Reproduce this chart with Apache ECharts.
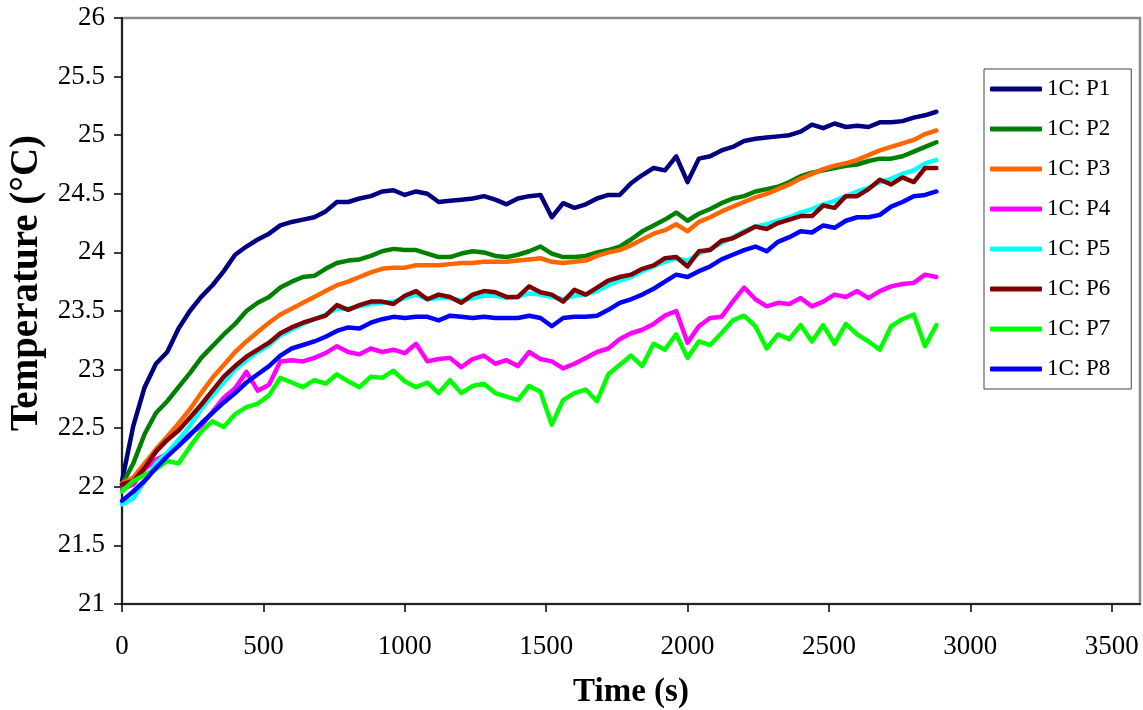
<!DOCTYPE html>
<html>
<head>
<meta charset="utf-8">
<script src="https://cdn.jsdelivr.net/npm/echarts@6/dist/echarts.min.js"></script>
<style>
html,body{margin:0;padding:0;background:#fff;}
#chart{width:1143px;height:710px;}
</style>
</head>
<body>
<div id="chart"></div>
<script>
const timeS = [0,40,80,120,160,200,240,280,320,360,400,440,480,520,560,600,640,680,720,760,800,840,880,920,960,1000,1040,1080,1120,1160,1200,1240,1280,1320,1360,1400,1440,1480,1520,1560,1600,1640,1680,1720,1760,1800,1840,1880,1920,1960,2000,2040,2080,2120,2160,2200,2240,2280,2320,2360,2400,2440,2480,2520,2560,2600,2640,2680,2720,2760,2800,2840,2880];

const seriesNames = ["1C: P1","1C: P2","1C: P3","1C: P4","1C: P5","1C: P6","1C: P7","1C: P8"];

const p1 = [22.05,22.52,22.85,23.05,23.15,23.35,23.50,23.62,23.72,23.84,23.98,24.05,24.11,24.16,24.23,24.26,24.28,24.30,24.35,24.43,24.43,24.46,24.48,24.52,24.53,24.49,24.52,24.50,24.43,24.44,24.45,24.46,24.48,24.45,24.41,24.46,24.48,24.49,24.30,24.42,24.38,24.41,24.46,24.49,24.49,24.59,24.66,24.72,24.70,24.82,24.60,24.80,24.82,24.87,24.90,24.95,24.97,24.98,24.99,25.00,25.03,25.09,25.06,25.10,25.07,25.08,25.07,25.11,25.11,25.12,25.15,25.17,25.20];
const p2 = [22.02,22.20,22.45,22.63,22.73,22.85,22.97,23.10,23.20,23.30,23.39,23.50,23.57,23.62,23.70,23.75,23.79,23.80,23.86,23.91,23.93,23.94,23.97,24.01,24.03,24.02,24.02,23.99,23.96,23.96,23.99,24.01,24.00,23.97,23.96,23.98,24.01,24.05,23.99,23.96,23.96,23.97,24.00,24.02,24.05,24.11,24.18,24.23,24.28,24.34,24.27,24.33,24.37,24.42,24.46,24.48,24.52,24.54,24.56,24.60,24.65,24.68,24.70,24.72,24.74,24.75,24.78,24.80,24.80,24.82,24.86,24.90,24.94];
const p3 = [22.03,22.08,22.20,22.32,22.43,22.54,22.66,22.80,22.93,23.04,23.15,23.24,23.32,23.40,23.47,23.52,23.57,23.62,23.67,23.72,23.75,23.79,23.83,23.86,23.87,23.87,23.89,23.89,23.89,23.90,23.91,23.91,23.92,23.92,23.92,23.93,23.94,23.95,23.92,23.91,23.92,23.93,23.97,24.00,24.02,24.06,24.11,24.16,24.19,24.24,24.18,24.26,24.30,24.35,24.39,24.43,24.47,24.50,24.54,24.58,24.63,24.67,24.71,24.74,24.76,24.79,24.83,24.87,24.90,24.93,24.96,25.01,25.04];
const p4 = [21.98,22.02,22.15,22.23,22.28,22.35,22.45,22.52,22.64,22.76,22.84,22.98,22.82,22.87,23.07,23.08,23.07,23.10,23.14,23.20,23.15,23.13,23.18,23.15,23.17,23.14,23.22,23.07,23.09,23.10,23.02,23.09,23.12,23.05,23.08,23.03,23.15,23.09,23.07,23.01,23.05,23.10,23.15,23.18,23.26,23.31,23.34,23.39,23.46,23.50,23.23,23.37,23.44,23.45,23.58,23.70,23.60,23.54,23.57,23.56,23.61,23.54,23.58,23.64,23.62,23.67,23.61,23.67,23.71,23.73,23.74,23.81,23.79];
const p5 = [21.85,21.90,22.05,22.20,22.29,22.40,22.52,22.66,22.78,22.89,23.00,23.08,23.15,23.21,23.29,23.34,23.39,23.43,23.47,23.52,23.52,23.54,23.56,23.57,23.58,23.61,23.64,23.60,23.61,23.61,23.59,23.61,23.63,23.63,23.61,23.62,23.65,23.64,23.62,23.60,23.63,23.64,23.67,23.72,23.76,23.79,23.84,23.88,23.92,23.95,23.93,23.99,24.03,24.08,24.13,24.18,24.22,24.24,24.27,24.30,24.34,24.37,24.41,24.44,24.48,24.52,24.55,24.60,24.63,24.67,24.70,24.76,24.79];
const p6 = [22.02,22.05,22.16,22.30,22.40,22.48,22.59,22.70,22.82,22.94,23.03,23.11,23.17,23.23,23.31,23.36,23.40,23.43,23.46,23.55,23.51,23.55,23.58,23.58,23.56,23.63,23.67,23.60,23.64,23.62,23.57,23.64,23.67,23.66,23.62,23.62,23.71,23.66,23.64,23.58,23.68,23.64,23.70,23.76,23.79,23.81,23.86,23.89,23.95,23.96,23.88,24.01,24.02,24.10,24.12,24.17,24.22,24.20,24.25,24.28,24.31,24.31,24.40,24.38,24.48,24.48,24.54,24.62,24.58,24.64,24.60,24.72,24.72];
const p7 = [21.96,22.05,22.10,22.15,22.22,22.20,22.34,22.47,22.56,22.51,22.62,22.68,22.71,22.78,22.93,22.89,22.85,22.91,22.88,22.96,22.90,22.85,22.94,22.93,22.99,22.90,22.85,22.89,22.80,22.91,22.80,22.86,22.88,22.80,22.77,22.74,22.86,22.81,22.53,22.74,22.80,22.83,22.73,22.96,23.04,23.12,23.03,23.22,23.17,23.30,23.10,23.24,23.21,23.31,23.42,23.46,23.37,23.18,23.30,23.26,23.38,23.24,23.38,23.22,23.39,23.30,23.24,23.17,23.37,23.43,23.47,23.20,23.38];
const p8 = [21.88,21.96,22.05,22.16,22.26,22.35,22.44,22.54,22.63,22.72,22.80,22.89,22.96,23.03,23.12,23.18,23.21,23.24,23.28,23.33,23.36,23.35,23.40,23.43,23.45,23.44,23.45,23.45,23.42,23.46,23.45,23.44,23.45,23.44,23.44,23.44,23.46,23.44,23.37,23.44,23.45,23.45,23.46,23.51,23.57,23.60,23.64,23.69,23.75,23.81,23.79,23.84,23.88,23.94,23.98,24.02,24.05,24.01,24.09,24.13,24.18,24.17,24.23,24.21,24.27,24.30,24.30,24.32,24.39,24.43,24.48,24.49,24.52];

const xTickValues = [0,500,1000,1500,2000,2500,3000,3500];
const seriesColors = ["#000080","#008000","#FF6600","#FF00FF","#00FFFF","#800000","#00FF00","#0000FF"];

const allValues = [p1,p2,p3,p4,p5,p6,p7,p8];
const FONT = "'Liberation Serif','Times New Roman',serif";

const chart = echarts.init(document.getElementById('chart'), null, {renderer:'canvas'});
chart.setOption({
  animation: false,
  backgroundColor: '#ffffff',
  grid: {left:122, right:3, top:18, bottom:106, containLabel:false, outerBoundsMode:'none',
    show:true, borderColor:'#8c8c8c', borderWidth:2.5, backgroundColor:'transparent'},
  legend: {
    orient:'vertical', left:984, top:69,
    data: seriesNames,
    icon:'roundRect', itemWidth:52, itemHeight:5, itemGap:16,
    padding:[8,21,8,6],
    borderColor:'#444', borderWidth:1, backgroundColor:'#fff',
    textStyle:{fontFamily:FONT, fontSize:23, color:'#000', lineHeight:24}
  },
  xAxis: {
    type:'value', min:0, max:3600, interval:500,
    name:'Time (s)', nameLocation:'middle', nameGap:72,
    nameTextStyle:{fontFamily:FONT, fontSize:33, fontWeight:'bold', color:'#000'},
    axisLine:{show:true, onZero:false, lineStyle:{color:'#222', width:2}},
    axisTick:{show:true, inside:false, length:8, lineStyle:{color:'#000', width:1.5}, customValues:xTickValues},
    axisLabel:{fontFamily:FONT, fontSize:27, color:'#000', margin:29, customValues:xTickValues,
      formatter:(v)=>String(v)},
    splitLine:{show:false}
  },
  yAxis: {
    type:'value', min:21, max:26, interval:0.5,
    name:'Temperature (°C)', nameLocation:'middle', nameGap:74,
    nameTextStyle:{fontFamily:FONT, fontSize:39, fontWeight:'bold', color:'#000', padding:[0,0,0,56]},
    axisLine:{show:true, lineStyle:{color:'#222', width:2}},
    axisTick:{show:true, inside:false, length:8, lineStyle:{color:'#000', width:1.5}},
    axisLabel:{fontFamily:FONT, fontSize:27, color:'#000', margin:17, formatter:(v)=>String(v)},
    splitLine:{show:false}
  },
  series: seriesNames.map((n,i)=>({
    name:n, type:'line', showSymbol:false, symbol:'none',
    color: seriesColors[i],
    lineStyle:{width:4.5, color:seriesColors[i], cap:'round', join:'round'},
    data: timeS.map((t,k)=>[t, allValues[i][k]])
  }))
});
</script>
</body>
</html>
